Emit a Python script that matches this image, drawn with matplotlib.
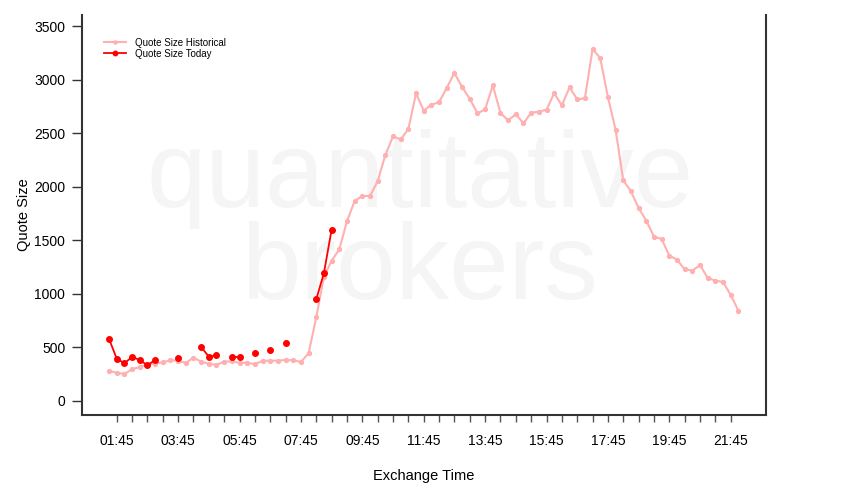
import matplotlib
matplotlib.use('Agg')
import matplotlib.pyplot as plt
import numpy as np

plt.rcParams['font.family'] = ['Liberation Sans', 'DejaVu Sans']

# horario (15 min) de 01:30 ate 22:00
horas = np.arange(1.5, 22.01, 0.25)

historico = [280, 264, 252, 296, 317, 339, 348, 361, 380, 376,
             355, 404, 367, 348, 336, 367, 370, 355, 358, 342,
             376, 376, 376, 383, 380, 364, 445, 781, 1160, 1309,
             1416, 1677, 1867, 1913, 1913, 2053, 2296, 2470, 2442, 2539,
             2872, 2710, 2766, 2788, 2924, 3061, 2931, 2821, 2685, 2722,
             2946, 2688, 2620, 2676, 2592, 2691, 2700, 2719, 2872, 2760,
             2928, 2816, 2825, 3285, 3201, 2837, 2532, 2060, 1957, 1801,
             1683, 1534, 1512, 1356, 1319, 1229, 1216, 1269, 1148, 1123,
             1111, 989, 843]

nan = np.nan
hoje = [579, 395, 352, 411, 383, 333, 383, nan, nan, 404,
        nan, nan, 504, 414, 426, nan, 411, 411, nan, 445,
        nan, 476, nan, 544, nan, nan, nan, 949, 1195, 1599]
hoje = hoje + [nan] * (len(historico) - len(hoje))

ticks_x = np.arange(1.75, 21.76, 0.5)
labels_x = ['%02d:45' % int(h) if (h - 1.75) % 2 == 0 else '' for h in ticks_x]
ticks_y = [0, 500, 1000, 1500, 2000, 2500, 3000, 3500]

fig = plt.figure(figsize=(8.5, 5), dpi=100)
ax = fig.add_axes([0.0965, 0.17, 0.8047, 0.80])

# marca d'agua
ax.text(0.494, 0.59, 'quantitative', transform=ax.transAxes, fontsize=77,
        color='#f5f5f5', ha='center', va='center', zorder=0)
ax.text(0.494, 0.36, 'brokers', transform=ax.transAxes, fontsize=77,
        color='#f5f5f5', ha='center', va='center', zorder=0)

ax.plot(horas, historico, color='#ffb0b0', lw=1.5, marker='o', ms=2.8,
        label='Quote Size Historical', zorder=2)
ax.plot(horas, hoje, color='#ff0000', lw=1.3, marker='o', ms=4,
        label='Quote Size Today', zorder=3)

ax.set_xlim(0.62, 22.9)
ax.set_ylim(-131, 3603)

ax.set_xticks(ticks_x)
ax.set_xticklabels(labels_x)
ax.set_yticks(ticks_y)
ax.tick_params(axis='x', direction='out', length=5, pad=9, labelsize=10,
               color='#555555', width=1)
ax.tick_params(axis='y', direction='out', length=7, pad=5, labelsize=10,
               color='#333333', width=1)

for s in ['left', 'bottom', 'right']:
    ax.spines[s].set_color('#333333')
    ax.spines[s].set_linewidth(1.5)
ax.spines['top'].set_visible(False)

ax.set_xlabel('Exchange Time', fontsize=10.5, labelpad=15)
ax.set_ylabel('Quote Size', fontsize=10.5, labelpad=2)

ax.legend(loc='upper left', bbox_to_anchor=(0.02, 0.965), frameon=False,
          fontsize=7, handlelength=2.2, handletextpad=0.9, labelspacing=0.1,
          markerscale=0.8)

fig.savefig('out.png', dpi=100)
